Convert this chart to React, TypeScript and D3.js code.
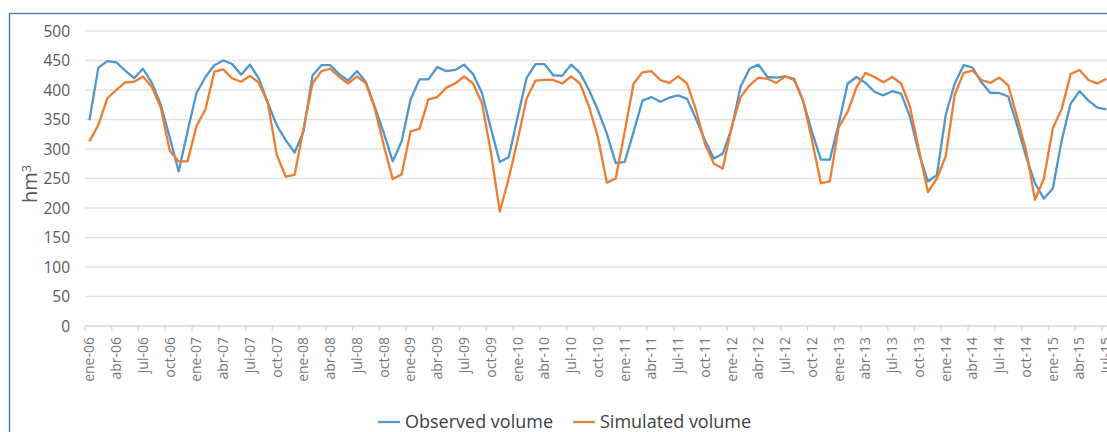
import React, { useRef, useEffect } from "react";
import * as d3 from "d3";

const monthNames = ["ene", "feb", "mar", "abr", "may", "jun", "jul", "ago", "sep", "oct", "nov", "dic"];
const years = ["06", "07", "08", "09", "10", "11", "12", "13", "14", "15"];
const months = years.flatMap((y) => monthNames.map((m) => `${m}-${y}`));

// hm3, monthly from ene-06 (the picture is cut after jul-15)
const observed = [
  349, 438, 449, 447, 433, 420, 436, 412, 375, 320, 262, 330,
  395, 422, 442, 450, 444, 426, 443, 419, 378, 340, 315, 294,
  330, 424, 442, 442, 427, 416, 432, 413, 371, 327, 279, 313,
  384, 418, 418, 439, 432, 434, 443, 427, 395, 335, 278, 286,
  354, 420, 444, 444, 425, 424, 443, 429, 400, 366, 326, 276,
  278, 329, 382, 388, 380, 387, 391, 385, 351, 315, 284, 292,
  335, 406, 436, 443, 422, 421, 423, 419, 382, 329, 282, 282,
  343, 411, 422, 412, 397, 391, 398, 394, 354, 292, 245, 256,
  358, 411, 442, 438, 413, 395, 395, 389, 340, 287, 242, 216,
  233, 315, 377, 398, 382, 370, 367
];

const simulated = [
  313, 341, 386, 400, 413, 414, 423, 405, 370, 297, 279, 279,
  339, 367, 431, 435, 420, 414, 424, 412, 378, 290, 253, 256,
  335, 411, 432, 436, 422, 411, 423, 411, 368, 306, 249, 257,
  330, 334, 384, 388, 404, 411, 423, 411, 378, 295, 194, 250,
  315, 385, 416, 417, 417, 411, 423, 411, 372, 320, 243, 250,
  329, 411, 430, 432, 417, 412, 423, 411, 366, 309, 275, 267,
  338, 388, 408, 421, 419, 412, 423, 417, 382, 315, 242, 245,
  337, 363, 405, 429, 422, 413, 422, 411, 371, 298, 227, 250,
  288, 392, 429, 433, 417, 412, 421, 408, 354, 298, 214, 250,
  335, 368, 427, 434, 417, 411, 419
];

const yTicks = [0, 50, 100, 150, 200, 250, 300, 350, 400, 450, 500];

const App = () => {
  const ref = useRef<SVGSVGElement>(null);

  useEffect(() => {
    const svg = d3.select(ref.current);
    svg.selectAll("*").remove();

    const width = 1107;
    const height = 432;
    const left = 85;
    const step = 8.92;

    svg.attr("width", width).attr("height", height);

    svg.append("rect")
      .attr("width", width)
      .attr("height", height)
      .attr("fill", "#fff");

    // frame, runs off the right and bottom edges
    svg.append("rect")
      .attr("x", 9.5)
      .attr("y", 13.5)
      .attr("width", 1200)
      .attr("height", 500)
      .attr("fill", "none")
      .attr("stroke", "#3a78c3")
      .attr("stroke-width", 1.3);

    const x = d3.scaleBand()
      .domain(months)
      .range([left, left + step * months.length]);

    const y = d3.scaleLinear()
      .domain([0, 500])
      .range([326, 31]);

    const cx = (i: number) => (x(months[i]) as number) + x.bandwidth() / 2;
    const right = left + step * months.length;

    // grid
    svg.append("g")
      .selectAll("line")
      .data(yTicks.slice(1))
      .enter()
      .append("line")
      .attr("x1", left)
      .attr("x2", right)
      .attr("y1", (d) => y(d))
      .attr("y2", (d) => y(d))
      .attr("stroke", "#e3e3e3")
      .attr("stroke-width", 1.5);

    svg.append("line")
      .attr("x1", left)
      .attr("x2", right)
      .attr("y1", y(0))
      .attr("y2", y(0))
      .attr("stroke", "#d6d6d6")
      .attr("stroke-width", 1.5);

    svg.append("g")
      .selectAll("text")
      .data(yTicks)
      .enter()
      .append("text")
      .attr("x", 70)
      .attr("y", (d) => y(d))
      .attr("dy", "0.36em")
      .attr("text-anchor", "end")
      .attr("font-family", "Open Sans")
      .attr("font-size", "15.5px")
      .attr("fill", "#595959")
      .text((d) => d);

    // category ticks and labels every 3 months
    const quarterly = months.filter((_, i) => i % 3 === 0);

    svg.append("g")
      .selectAll("line")
      .data(d3.range(0, months.length + 1, 3))
      .enter()
      .append("line")
      .attr("x1", (i) => left + i * step)
      .attr("x2", (i) => left + i * step)
      .attr("y1", y(0))
      .attr("y2", y(0) + 5)
      .attr("stroke", "#d6d6d6")
      .attr("stroke-width", 1.2);

    svg.append("g")
      .selectAll("text")
      .data(quarterly)
      .enter()
      .append("text")
      .attr("transform", (d) => `translate(${(x(d) as number) + x.bandwidth() / 2},337) rotate(-90)`)
      .attr("dy", "0.35em")
      .attr("text-anchor", "end")
      .attr("font-family", "Open Sans")
      .attr("font-size", "14px")
      .attr("fill", "#777")
      .text((d) => d);

    // y axis title
    const title = svg.append("text")
      .attr("transform", "translate(37,184) rotate(-90)")
      .attr("text-anchor", "middle")
      .attr("font-family", "Open Sans")
      .attr("font-size", "20px")
      .attr("fill", "#595959");
    title.append("tspan").text("hm");
    title.append("tspan")
      .attr("dy", "-0.5em")
      .attr("font-size", "13px")
      .text("3");

    const line = d3.line<number>()
      .x((_, i) => cx(i))
      .y((d) => y(d));

    svg.append("path")
      .datum(observed)
      .attr("d", line)
      .attr("fill", "none")
      .attr("stroke", "#4f97cc")
      .attr("stroke-width", 2.3)
      .attr("stroke-linejoin", "round");

    svg.append("path")
      .datum(simulated)
      .attr("d", line)
      .attr("fill", "none")
      .attr("stroke", "#ed7d31")
      .attr("stroke-width", 2.3)
      .attr("stroke-linejoin", "round");

    // legend
    const legend = [
      { name: "Observed volume", color: "#4f97cc", x: 378 },
      { name: "Simulated volume", color: "#ed7d31", x: 573 }
    ];

    const items = svg.append("g")
      .selectAll("g")
      .data(legend)
      .enter()
      .append("g")
      .attr("transform", (d) => `translate(${d.x},422)`);

    items.append("line")
      .attr("x2", 22)
      .attr("stroke", (d) => d.color)
      .attr("stroke-width", 2.2);

    items.append("text")
      .attr("x", 27)
      .attr("dy", "0.36em")
      .attr("font-family", "Open Sans")
      .attr("font-size", "18px")
      .attr("fill", "#404040")
      .text((d) => d.name);
  }, []);

  return (
    <svg ref={ref} style={{ position: "absolute", left: 0, top: 0, display: "block" }}></svg>
  );
};

export default App;
